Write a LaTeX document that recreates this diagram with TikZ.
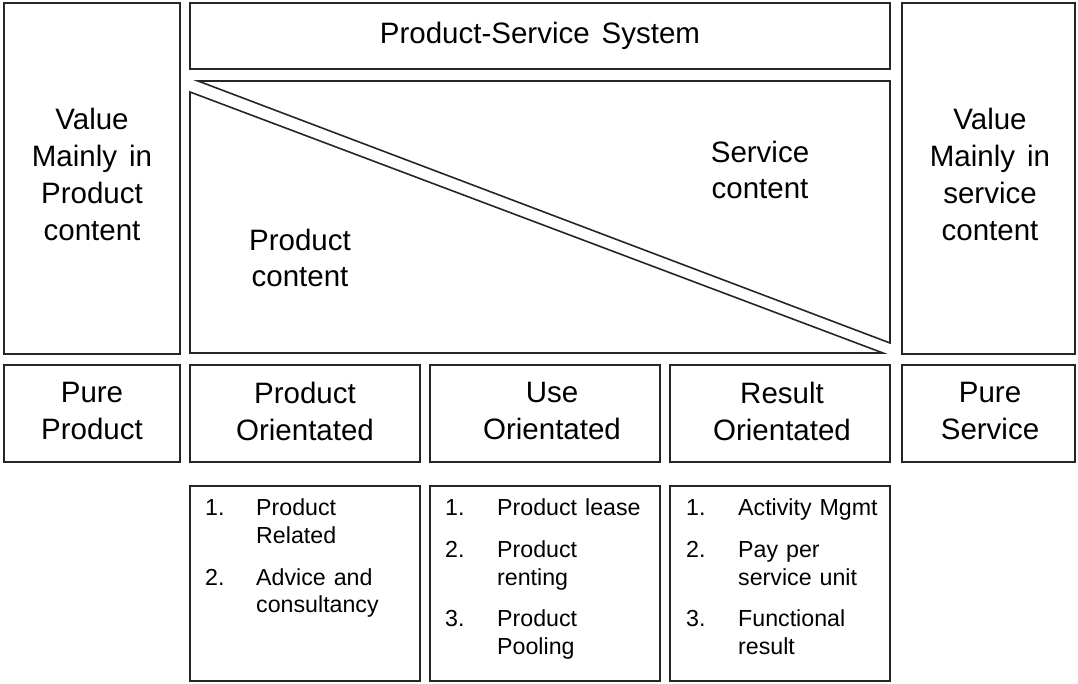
\documentclass[tikz,border=0pt]{standalone}
\usepackage{fontspec}
\setmainfont{Liberation Sans}
\newcommand{\bigfnt}{\fontsize{29.5}{37}\selectfont\spaceskip=12pt plus 2pt\relax}
\newcommand{\midfnt}{\fontsize{29.5}{36}\selectfont}
\newcommand{\itmfnt}{\fontsize{23.2}{28}\selectfont\spaceskip=8pt plus 2pt\relax}
\begin{document}
\begin{tikzpicture}[x=1pt,y=-1pt,
  frame/.style={draw=black!85,line width=1.6pt},
  big/.style={font=\bigfnt,align=center,inner sep=0pt},
  mid/.style={font=\midfnt,align=center,inner sep=0pt},
  itm/.style={font=\itmfnt,anchor=base west,inner sep=0pt}]
\useasboundingbox (0,0) rectangle (1078,684);
% top frames
\draw[frame] (4,3) rectangle (180,354);
\draw[frame] (190,3) rectangle (890,69);
\draw[frame] (902,3) rectangle (1075,354);
\draw[frame,line join=miter] (198,81) -- (890,81) -- (890,343) -- cycle;
\draw[frame,line join=miter] (190,92) -- (190,353) -- (883,353) -- cycle;
\node[big] (pss) at (540,36) {Product-Service System};
\node[big] (vp) at (92,174) {Value\\Mainly in\\Product\\content};
\node[big] (vs) at (990,174) {Value\\Mainly in\\service\\content};
\node[mid] (sc) at (760,170) {Service\\content};
\node[mid] (pc) at (300,258) {Product\\content};
% middle row
\draw[frame] (4,365) rectangle (180,462);
\draw[frame] (190,365) rectangle (420,462);
\draw[frame] (430,365) rectangle (660,462);
\draw[frame] (670,365) rectangle (890,462);
\draw[frame] (902,365) rectangle (1075,462);
\node[big] (pp) at (92,411) {Pure\\Product};
\node[big] (po) at (305,411) {Product\\Orientated};
\node[big] (uo) at (552,411) {Use\\Orientated};
\node[big] (ro) at (782,411) {Result\\Orientated};
\node[big] (ps) at (990,411) {Pure\\Service};
% list frames
\draw[frame] (190,486) rectangle (420,681);
\draw[frame] (430,486) rectangle (660,681);
\draw[frame] (670,486) rectangle (890,681);
% list 1
\node[itm] (a1) at (205,515) {1.};
\node[itm] (a1t) at (256,515) {Product};
\node[itm] (a1u) at (256,543) {Related};
\node[itm] (a2) at (205,585) {2.};
\node[itm] (a2t) at (256,585) {Advice and};
\node[itm] (a2u) at (256,612) {consultancy};
% list 2
\node[itm] (b1) at (445,515) {1.};
\node[itm] (b1t) at (497,515) {Product lease};
\node[itm] (b2) at (445,557) {2.};
\node[itm] (b2t) at (497,557) {Product};
\node[itm] (b2u) at (497,585) {renting};
\node[itm] (b3) at (445,626) {3.};
\node[itm] (b3t) at (497,626) {Product};
\node[itm] (b3u) at (497,654) {Pooling};
% list 3
\node[itm] (c1) at (686,515) {1.};
\node[itm] (c1t) at (738,515) {Activity Mgmt};
\node[itm] (c2) at (686,557) {2.};
\node[itm] (c2t) at (738,557) {Pay per};
\node[itm] (c2u) at (738,585) {service unit};
\node[itm] (c3) at (686,626) {3.};
\node[itm] (c3t) at (738,626) {Functional};
\node[itm] (c3u) at (738,654) {result};
\end{tikzpicture}
\end{document}
